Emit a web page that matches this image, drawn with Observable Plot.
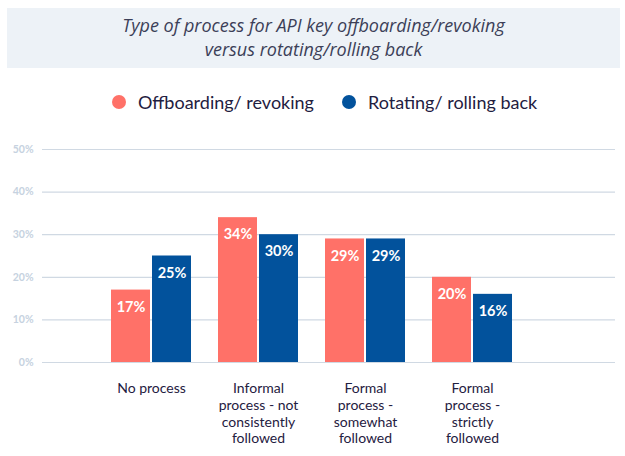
<!DOCTYPE html>
<html>
<head>
<meta charset="utf-8">
<script src="https://cdn.jsdelivr.net/npm/d3@7"></script>
<script src="https://cdn.jsdelivr.net/npm/@observablehq/plot@0.6"></script>
<style>
  html, body { margin: 0; padding: 0; background: #ffffff; }
  body { width: 625px; height: 456px; position: relative; overflow: hidden; font-family: Lato, "Open Sans", sans-serif; }
  #title {
    position: absolute; left: 7px; top: 8px; width: 613px; height: 60px;
    background: #edf2f7; color: #3c3f58; font-style: italic; font-size: 18px;
    font-family: "Open Sans", Lato, sans-serif;
    text-align: center; line-height: 24px; box-sizing: border-box; padding-top: 5px;
  }
  #legend {
    position: absolute; left: 112px; top: 90px; height: 24px;
    display: flex; align-items: center; gap: 28px; font-size: 18px; color: #1f2041;
  }
  .item { display: flex; align-items: center; gap: 12px; }
  .dot { width: 14px; height: 14px; border-radius: 50%; display: inline-block; }
  #chart { position: absolute; left: 0; top: 130px; }
</style>
</head>
<body>
<div id="title">Type of process for API key offboarding/revoking<br>versus rotating/rolling back</div>
<div id="legend"></div>
<div id="chart"></div>
<script>
// ---- data ----
const categories = ["No process", "Informal process - not consistently followed", "Formal process - somewhat followed", "Formal process - strictly followed"];
const tickLabels = ["No process", "Informal\nprocess - not\nconsistently\nfollowed", "Formal\nprocess -\nsomewhat\nfollowed", "Formal\nprocess -\nstrictly\nfollowed"];
const seriesNames = ["Offboarding/ revoking", "Rotating/ rolling back"];
const offboarding = [17, 34, 29, 20];
const rotating = [25, 30, 29, 16];
const yTicks = [0, 10, 20, 30, 40, 50];
const colors = ["#ff7168", "#02529c"];

const offData = categories.map((c, i) => ({category: c, series: seriesNames[0], value: offboarding[i]}));
const rotData = categories.map((c, i) => ({category: c, series: seriesNames[1], value: rotating[i]}));

// ---- legend ----
const legend = document.getElementById("legend");
seriesNames.forEach((s, i) => {
  const item = document.createElement("div");
  item.className = "item";
  const dot = document.createElement("span");
  dot.className = "dot";
  dot.style.background = colors[i];
  const label = document.createElement("span");
  label.textContent = s;
  item.appendChild(dot);
  item.appendChild(label);
  legend.appendChild(item);
});

// ---- chart ----
const inner = 13.5, outer = 54.5, off = 20.5;
const chart = Plot.plot({
  width: 625,
  height: 326,
  marginTop: 19,
  marginBottom: 94,
  marginLeft: 42,
  marginRight: 10,
  style: {fontFamily: "Lato, 'Open Sans', sans-serif", background: "transparent"},
  x: {type: "band", domain: categories, range: [97.5, 525.5], padding: 0, round: false},
  y: {domain: [0, 50]},
  color: {domain: seriesNames, range: colors},
  marks: [
    Plot.ruleY(yTicks, {stroke: "#d0d9e3", strokeWidth: 1.2}),
    Plot.barY(offData, {x: "category", y: "value", fill: "series", insetLeft: inner, insetRight: outer}),
    Plot.barY(rotData, {x: "category", y: "value", fill: "series", insetLeft: outer, insetRight: inner}),
    Plot.text(offData, {x: "category", y: "value", text: d => d.value + "%", dx: -off, dy: 17, lineAnchor: "middle", fill: "white", fontWeight: "bold", fontSize: 14.5}),
    Plot.text(rotData, {x: "category", y: "value", text: d => d.value + "%", dx: off, dy: 17, lineAnchor: "middle", fill: "white", fontWeight: "bold", fontSize: 14.5}),
    Plot.axisY({ticks: yTicks, tickFormat: d => d + "%", tickSize: 0, tickPadding: 9, fontSize: 10.5, fontWeight: "bold", fill: "#c6d2e0", label: null}),
    Plot.axisX({tickSize: 0, tickPadding: 19, tickFormat: d => tickLabels[categories.indexOf(d)], fontSize: 14, lineHeight: 1.19, fill: "#1f2041", label: null})
  ]
});
document.getElementById("chart").appendChild(chart);
</script>
</body>
</html>
